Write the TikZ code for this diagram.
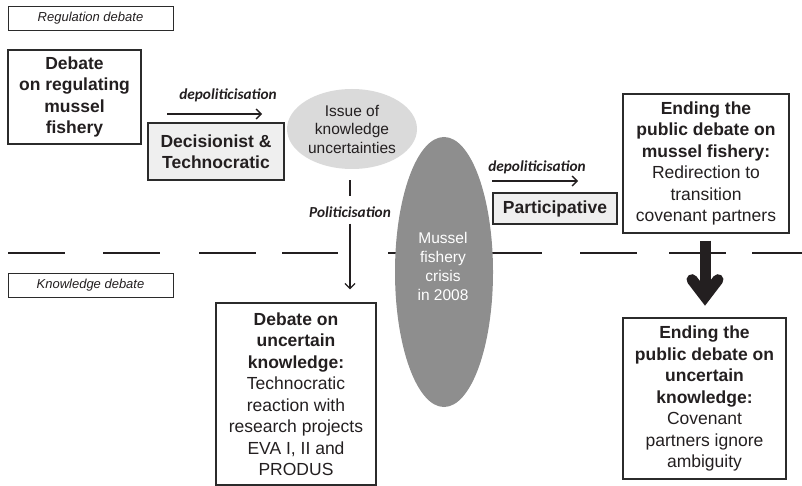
\documentclass[tikz,border=0pt]{standalone}
\usepackage{fontspec}
\setmainfont{Liberation Sans}
\newfontfamily\calib{Carlito}
\usetikzlibrary{arrows.meta,calc,shapes.geometric}
\definecolor{txt}{HTML}{231F20}
\definecolor{bordc}{HTML}{2B2B2B}
\definecolor{lightfill}{HTML}{EFEFEF}
\definecolor{ellfill}{HTML}{DADADA}
\definecolor{crisisfill}{HTML}{8E8E8E}
\newcommand\mainf{\fontsize{17.5}{21.5}\selectfont}
\begin{document}
\begin{tikzpicture}[x=1pt,y=-1pt,
  box/.style={draw=bordc, line width=1.3pt, text=txt, align=center, inner sep=0pt, font=\mainf},
  graybox/.style={box, fill=lightfill},
  labelbox/.style={draw=bordc, line width=0.9pt, text=txt, minimum width=165pt, minimum height=24pt, inner sep=0pt, font=\fontsize{13}{15}\selectfont\itshape},
  arrowlabel/.style={text=txt, inner sep=0pt, font=\calib\fontsize{15.3}{17}\selectfont\bfseries\itshape},
  thinarrow/.style={line width=1.3pt, draw=txt, -{Straight Barb[length=5pt,width=10pt]}},
  thinline/.style={line width=1.3pt, draw=txt},
  sepline/.style={line width=2pt, draw=txt},
  bigarrow/.style={line width=11pt, draw=txt}
]
\useasboundingbox (0,0) rectangle (802,486);

% separator line
\foreach \a/\b in {8/65,103/160,199/256,282/338,388/445,485/542,580/637,669/726,752/802}
  \draw[sepline] (\a,253) -- (\b,253);

% labels
\node[labelbox] (reg) at (90.5,18) {Regulation debate};
\node[labelbox] (know) at (90.5,285) {Knowledge debate};

% left top box
\node[box, minimum width=133pt, minimum height=94pt] (deb1) at (74.5,97)
  {\textbf{Debate}\\\textbf{on regulating}\\\textbf{mussel}\\\textbf{fishery}};

% depoliticisation 1
\node[arrowlabel] (dep1) at (228,95) {depoliticisation};
\coordinate (d1s) at (167,114);
\coordinate (d1e) at (262,114);
\draw[thinarrow] (d1s) -- (d1e);

\node[graybox, minimum width=136pt, minimum height=57pt] (decis) at (216,151.5)
  {\textbf{Decisionist \&}\\\textbf{Technocratic}};

% issue ellipse
\node[ellipse, fill=ellfill, minimum width=130pt, minimum height=80pt, inner sep=0pt,
  text=txt, align=center, font=\fontsize{15.5}{18.5}\selectfont] (issue) at (352,129)
  {Issue of\\knowledge\\uncertainties};

% politicisation
\node[arrowlabel] (pol) at (350,212) {Politicisation};
\draw[thinline] ($(issue.south)+(-2,11)$) -- ($(issue.south)+(-2,27)$);

% bottom left box
\node[box, minimum width=160pt, minimum height=182pt] (dbox) at (296,394)
  {\textbf{Debate on}\\\textbf{uncertain}\\\textbf{knowledge:}\\Technocratic\\reaction with\\research projects\\EVA I, II and\\PRODUS};
\draw[thinarrow] ($(pol.south)+(0,6)$) -- ($(dbox.north)+(54,-13)$);

% crisis ellipse
\node[ellipse, fill=crisisfill, minimum width=98pt, minimum height=270pt, inner sep=0pt] (crisis) at (444,272) {};
\node[text=white, align=center, inner sep=0pt, font=\fontsize{15.5}{19}\selectfont] (crisistxt) at (443,266.5)
  {Mussel\\fishery\\crisis\\in 2008};

% depoliticisation 2
\node[arrowlabel] (dep2) at (537,167) {depoliticisation};
\coordinate (d2s) at (492,181);
\coordinate (d2e) at (578,181);
\draw[thinarrow] (d2s) -- (d2e);

\node[graybox, minimum width=124pt, minimum height=31pt] (partic) at (555,208.5)
  {\textbf{Participative}};

% right boxes
\node[box, minimum width=166pt, minimum height=139pt] (endA) at (706,163.5)
  {\textbf{Ending the}\\\textbf{public debate on}\\\textbf{mussel fishery:}\\Redirection to\\transition\\covenant partners};
\node[box, minimum width=163pt, minimum height=161pt] (endB) at (704.5,398.5)
  {\textbf{Ending the}\\\textbf{public debate on}\\\textbf{uncertain}\\\textbf{knowledge:}\\Covenant\\partners ignore\\ambiguity};

% big arrow
\draw[bigarrow] ($(endA.south)+(-1,7)$) -- ($(endA.south)+(-1,60)$);
\draw[bigarrow, line cap=round, line join=miter]
  ($(endA.south)+(-14,46)$) -- ($(endA.south)+(-1,63)$) -- ($(endA.south)+(12,46)$);
\end{tikzpicture}
\end{document}
